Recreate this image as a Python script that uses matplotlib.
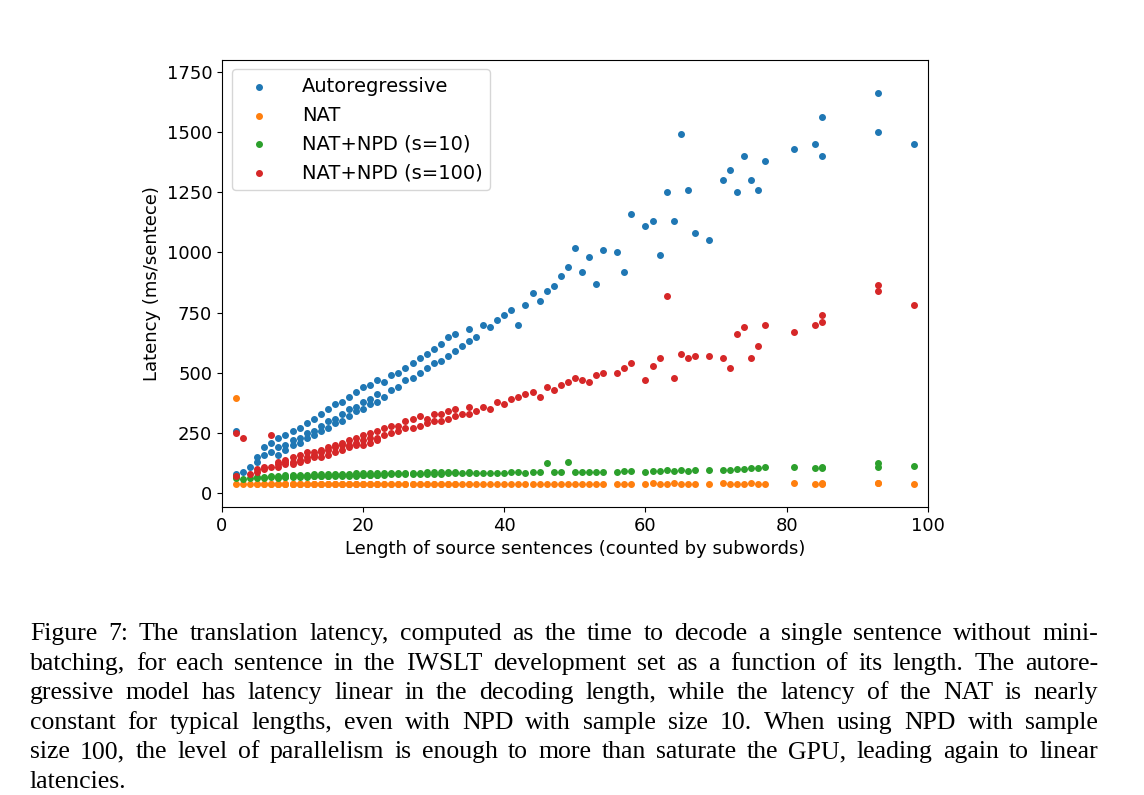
import matplotlib
matplotlib.use("Agg")
from matplotlib import pyplot as plt

# sentence lengths (one entry per sentence), latencies per model
lengths = [2, 2, 3, 4, 5, 5, 6, 6, 7, 7,
           8, 8, 8, 9, 9, 9, 10, 10, 10, 11,
           11, 11, 12, 12, 12, 13, 13, 13, 14, 14,
           14, 15, 15, 15, 16, 16, 16, 17, 17, 17,
           18, 18, 18, 19, 19, 19, 20, 20, 20, 21,
           21, 21, 22, 22, 22, 23, 23, 24, 24, 25,
           25, 26, 26, 27, 27, 28, 28, 29, 29, 30,
           30, 31, 31, 32, 32, 33, 33, 34, 35, 35,
           36, 37, 38, 39, 40, 41, 42, 43, 44, 45,
           46, 47, 48, 49, 50, 51, 52, 53, 54, 56,
           57, 58, 60, 61, 62, 63, 64, 65, 66, 67,
           69, 71, 72, 73, 74, 75, 76, 77, 81, 84,
           85, 85, 93, 93, 98]
autoregressive = [260, 80, 90, 110, 130, 150, 160, 190, 170, 210,
                  190, 160, 230, 200, 180, 240, 220, 200, 260, 230,
                  210, 270, 250, 230, 290, 260, 240, 310, 280, 260,
                  330, 300, 270, 350, 310, 290, 370, 330, 300, 380,
                  350, 320, 400, 360, 340, 420, 380, 350, 440, 390,
                  370, 450, 410, 380, 470, 400, 460, 430, 490, 440,
                  500, 470, 520, 480, 540, 500, 560, 520, 580, 540,
                  600, 550, 620, 570, 650, 590, 660, 610, 630, 680,
                  650, 700, 690, 720, 740, 760, 700, 780, 830, 800,
                  840, 860, 900, 940, 1020, 920, 980, 870, 1010, 1000,
                  920, 1160, 1110, 1130, 990, 1250, 1130, 1490, 1260, 1080,
                  1050, 1300, 1340, 1250, 1400, 1300, 1260, 1380, 1430, 1450,
                  1560, 1400, 1660, 1500, 1450]
nat = [395, 38, 40, 38, 40, 38, 40, 39, 38, 40,
       38, 40, 39, 38, 40, 39, 38, 40, 39, 38,
       40, 39, 38, 40, 39, 38, 40, 39, 38, 40,
       39, 38, 40, 39, 38, 40, 39, 38, 40, 39,
       38, 40, 39, 38, 40, 39, 38, 40, 39, 38,
       40, 39, 38, 40, 39, 38, 40, 39, 38, 40,
       39, 38, 40, 39, 38, 40, 39, 38, 40, 39,
       38, 40, 39, 38, 40, 39, 38, 40, 39, 38,
       40, 39, 38, 40, 39, 38, 40, 39, 38, 40,
       39, 38, 40, 39, 38, 40, 39, 38, 40, 39,
       40, 39, 40, 41, 39, 40, 41, 40, 39, 40,
       40, 41, 40, 39, 40, 41, 40, 40, 42, 40,
       41, 40, 42, 41, 40]
npd10 = [65, 70, 60, 62, 64, 66, 65, 68, 66, 70,
         67, 65, 72, 68, 66, 74, 70, 67, 75, 70,
         68, 76, 71, 69, 77, 72, 70, 78, 72, 70,
         78, 73, 71, 79, 74, 72, 80, 74, 72, 80,
         75, 73, 81, 75, 73, 82, 76, 74, 82, 76,
         74, 83, 77, 75, 83, 77, 84, 78, 84, 78,
         85, 79, 85, 79, 86, 80, 86, 80, 87, 81,
         87, 81, 88, 82, 88, 82, 89, 83, 83, 89,
         84, 85, 85, 86, 86, 87, 87, 86, 88, 88,
         125, 88, 89, 130, 89, 90, 88, 89, 90, 90,
         91, 92, 90, 93, 92, 95, 92, 96, 94, 95,
         95, 96, 98, 100, 102, 104, 106, 108, 108, 106,
         108, 106, 125, 110, 115]
npd100 = [70, 250, 230, 80, 100, 90, 110, 100, 110, 240,
          120, 110, 130, 130, 120, 140, 130, 120, 150, 140,
          130, 160, 150, 140, 170, 160, 150, 170, 170, 150,
          180, 180, 160, 190, 190, 170, 200, 200, 180, 210,
          200, 190, 220, 210, 200, 230, 220, 200, 240, 230,
          210, 250, 230, 220, 260, 240, 270, 250, 280, 260,
          280, 270, 300, 270, 310, 280, 320, 290, 310, 300,
          330, 300, 330, 310, 340, 320, 350, 330, 330, 360,
          340, 360, 350, 380, 370, 390, 400, 410, 420, 400,
          440, 430, 450, 460, 480, 470, 460, 490, 500, 500,
          520, 540, 470, 530, 560, 820, 480, 580, 560, 570,
          570, 560, 520, 660, 690, 560, 610, 700, 670, 700,
          740, 710, 865, 840, 780]

series = [("Autoregressive", autoregressive, "tab:blue"),
          ("NAT", nat, "tab:orange"),
          ("NAT+NPD (s=10)", npd10, "tab:green"),
          ("NAT+NPD (s=100)", npd100, "tab:red")]

fig = plt.figure(figsize=(11.44, 7.95), dpi=100)
ax = fig.add_axes([0.194, 0.362, 0.617, 0.563])

for name, ys, col in series:
    ax.scatter(lengths, ys, s=16, color=col, label=name)

ax.set_xlim(0, 100)
ax.set_ylim(-58, 1800)
ax.set_yticks([0, 250, 500, 750, 1000, 1250, 1500, 1750])
ax.tick_params(labelsize=13)
ax.set_xlabel("Length of source sentences (counted by subwords)", fontsize=13)
ax.set_ylabel("Latency (ms/sentece)", fontsize=13)
ax.legend(loc="upper left", fontsize=14, scatterpoints=1, handletextpad=1.2)

# caption, justified word by word
caption = [
    "Figure 7:  The translation latency, computed as the time to decode a single sentence without mini-",
    "batching, for each sentence in the IWSLT development set as a function of its length.  The autore-",
    "gressive model has latency linear in the decoding length, while the latency of the NAT is nearly",
    "constant for typical lengths, even with NPD with sample size 10.  When using NPD with sample",
    "size 100, the level of parallelism is enough to more than saturate the GPU, leading again to linear",
    "latencies.",
]
W, H = 1144, 795
left, right = 30, 1098
renderer = fig.canvas.get_renderer()
for i, line in enumerate(caption):
    yb = 640 + i * 29.6
    words = line.split()
    texts = [fig.text(0, 1 - yb / H, w, fontsize=18.5, family="Liberation Serif",
                      va="baseline", ha="left") for w in words]
    widths = [t.get_window_extent(renderer).width for t in texts]
    if i < len(caption) - 1:
        gap = (right - left - sum(widths)) / (len(words) - 1)
    else:
        gap = 5
    x = left
    for t, w in zip(texts, widths):
        t.set_x(x / W)
        x += w + gap

fig.savefig("out.png", dpi=100)
